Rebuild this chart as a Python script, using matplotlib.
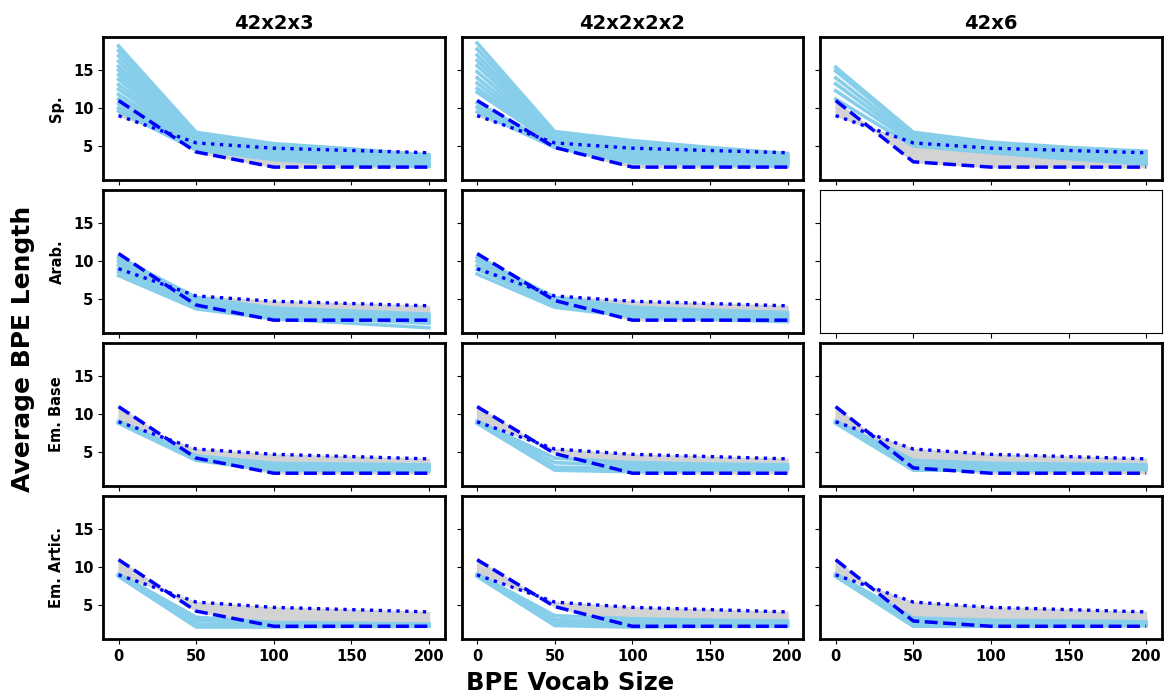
import matplotlib.pyplot as plt

# BPE vocab sizes on the x axis
vocab = [0, 50, 100, 150, 200]
columns = ["42x2x3", "42x2x2x2", "42x6"]
rows = ["Sp.", "Arab.", "Em. Base", "Em. Artic."]

# reference curves (same in every row, per column for the dashed one)
upper_ref = [9.0, 5.4, 4.7, 4.4, 4.1]
lower_ref = [[11.0, 4.2, 2.2, 2.2, 2.2],
             [11.0, 4.8, 2.2, 2.2, 2.2],
             [11.0, 2.9, 2.2, 2.2, 2.2]]

# individual runs, one list per line
sp_42x2x3 = [[18.2, 6.8, 5.3, 4.6, 3.8], [17.6, 6.6, 5.1, 4.4, 3.7],
             [16.9, 6.4, 4.9, 4.2, 3.5], [16.2, 6.2, 4.7, 4.0, 3.4],
             [15.5, 6.0, 4.5, 3.8, 3.3], [15.0, 5.9, 4.4, 3.7, 3.2],
             [14.4, 5.7, 4.2, 3.5, 3.1], [13.8, 5.5, 4.0, 3.4, 3.0],
             [13.1, 5.4, 3.9, 3.3, 2.9], [12.5, 5.2, 3.7, 3.1, 2.8],
             [11.8, 5.0, 3.6, 3.0, 2.7], [11.2, 4.9, 3.5, 2.9, 2.6],
             [10.6, 4.7, 3.4, 2.8, 2.5], [10.0, 4.6, 3.3, 2.7, 2.4],
             [9.6, 4.5, 3.2, 2.6, 2.3]]
sp_42x2x2x2 = [[18.6, 6.9, 5.7, 4.8, 4.0], [17.8, 6.7, 5.4, 4.6, 3.8],
               [17.0, 6.5, 5.2, 4.4, 3.7], [16.3, 6.3, 5.0, 4.2, 3.5],
               [15.6, 6.1, 4.8, 4.0, 3.4], [14.8, 5.9, 4.6, 3.9, 3.3],
               [14.0, 5.7, 4.4, 3.7, 3.1], [13.3, 5.5, 4.2, 3.5, 3.0],
               [12.6, 5.4, 4.0, 3.4, 2.9], [12.1, 5.2, 3.7, 3.2, 2.8],
               [10.7, 5.0, 3.4, 3.0, 2.6], [10.1, 4.9, 3.1, 2.8, 2.5],
               [9.5, 4.8, 2.8, 2.6, 2.3]]
sp_42x6 = [[15.4, 6.8, 5.5, 4.8, 4.3], [14.9, 6.5, 5.2, 4.6, 4.0],
           [14.0, 6.1, 5.0, 4.3, 3.6], [13.2, 5.7, 4.7, 4.0, 3.2],
           [12.3, 5.4, 4.4, 3.6, 2.9], [11.2, 5.0, 4.1, 3.3, 2.6]]
arab_42x2x3 = [[10.5, 5.2, 3.8, 3.4, 3.0], [10.0, 4.9, 3.6, 3.1, 2.7],
               [9.5, 4.6, 3.3, 2.9, 2.4], [9.0, 4.3, 3.0, 2.6, 2.1],
               [8.6, 4.0, 2.8, 2.3, 1.8], [8.1, 3.7, 2.4, 1.8, 1.2]]
arab_42x2x2x2 = [[10.5, 5.2, 3.9, 3.5, 3.2], [10.0, 4.9, 3.6, 3.2, 2.9],
                 [9.4, 4.6, 3.3, 2.9, 2.6], [8.9, 4.3, 3.0, 2.6, 2.3],
                 [8.3, 3.9, 2.7, 2.3, 2.0]]
base_42x2x3 = [[9.1, 4.5, 3.5, 3.4, 3.3], [9.0, 4.3, 3.2, 3.1, 3.0],
               [8.9, 4.1, 2.9, 2.8, 2.7], [8.8, 3.9, 2.6, 2.6, 2.5]]
base_42x2x2x2 = [[9.1, 4.2, 3.6, 3.4, 3.3], [9.0, 3.6, 3.2, 3.1, 3.0],
                 [8.9, 3.0, 2.8, 2.8, 2.8], [8.8, 2.6, 2.4, 2.6, 2.7]]
base_42x6 = [[9.1, 3.9, 3.5, 3.4, 3.3], [9.0, 3.4, 3.1, 3.0, 3.0],
             [8.9, 3.0, 2.8, 2.8, 2.8], [8.8, 2.6, 2.6, 2.6, 2.7]]
artic_42x2x3 = [[9.1, 3.4, 2.7, 2.6, 2.5], [9.0, 3.0, 2.5, 2.4, 2.4],
                [8.9, 2.5, 2.3, 2.3, 2.3], [8.8, 2.1, 2.1, 2.2, 2.2]]
artic_42x2x2x2 = [[9.1, 3.6, 3.2, 3.0, 2.9], [9.0, 3.1, 2.8, 2.7, 2.6],
                  [8.9, 2.7, 2.5, 2.4, 2.4], [8.8, 2.3, 2.1, 2.2, 2.2]]
artic_42x6 = [[9.1, 3.3, 3.0, 2.9, 2.8], [9.0, 2.9, 2.7, 2.6, 2.6],
              [8.9, 2.5, 2.4, 2.4, 2.4], [8.8, 2.2, 2.2, 2.2, 2.3]]

runs = [[sp_42x2x3, sp_42x2x2x2, sp_42x6],
        [arab_42x2x3, arab_42x2x2x2, None],
        [base_42x2x3, base_42x2x2x2, base_42x6],
        [artic_42x2x3, artic_42x2x2x2, artic_42x6]]

fig, axes = plt.subplots(4, 3, figsize=(11.71, 6.97), dpi=100, sharex=True, sharey=True)
plt.subplots_adjust(left=0.088, right=0.992, top=0.947, bottom=0.083, wspace=0.05, hspace=0.07)

for r in range(4):
    for c in range(3):
        ax = axes[r, c]
        lines = runs[r][c]
        if lines is not None:
            ax.fill_between(vocab, upper_ref, lower_ref[c], color='lightgrey', zorder=1)
            for ln in lines:
                ax.plot(vocab, ln, color='skyblue', lw=2.6, zorder=2)
            ax.plot(vocab, upper_ref, color='blue', ls=':', lw=2.4, zorder=3)
            ax.plot(vocab, lower_ref[c], color='blue', ls='--', lw=2.5, zorder=3)
            for sp in ax.spines.values():
                sp.set_linewidth(2)
        if r == 0:
            ax.set_title(columns[c], fontsize=14, fontweight='bold')
        if c == 0:
            ax.set_ylabel(rows[r], fontsize=10.5, fontweight='bold', labelpad=6)
        ax.tick_params(labelsize=10.5)
        for lab in ax.get_xticklabels() + ax.get_yticklabels():
            lab.set_fontweight('bold')

axes[0, 0].set_xticks([0, 50, 100, 150, 200])
axes[0, 0].set_yticks([5, 10, 15])
axes[0, 0].set_ylim(0.5, 19.4)

fig.text(0.487, 0.01, "BPE Vocab Size", fontsize=17.5, fontweight='bold', ha='center', va='baseline')
fig.text(0.009, 0.5, "Average BPE Length", fontsize=18, fontweight='bold',
         rotation=90, ha='left', va='center')

plt.savefig("out.png")
